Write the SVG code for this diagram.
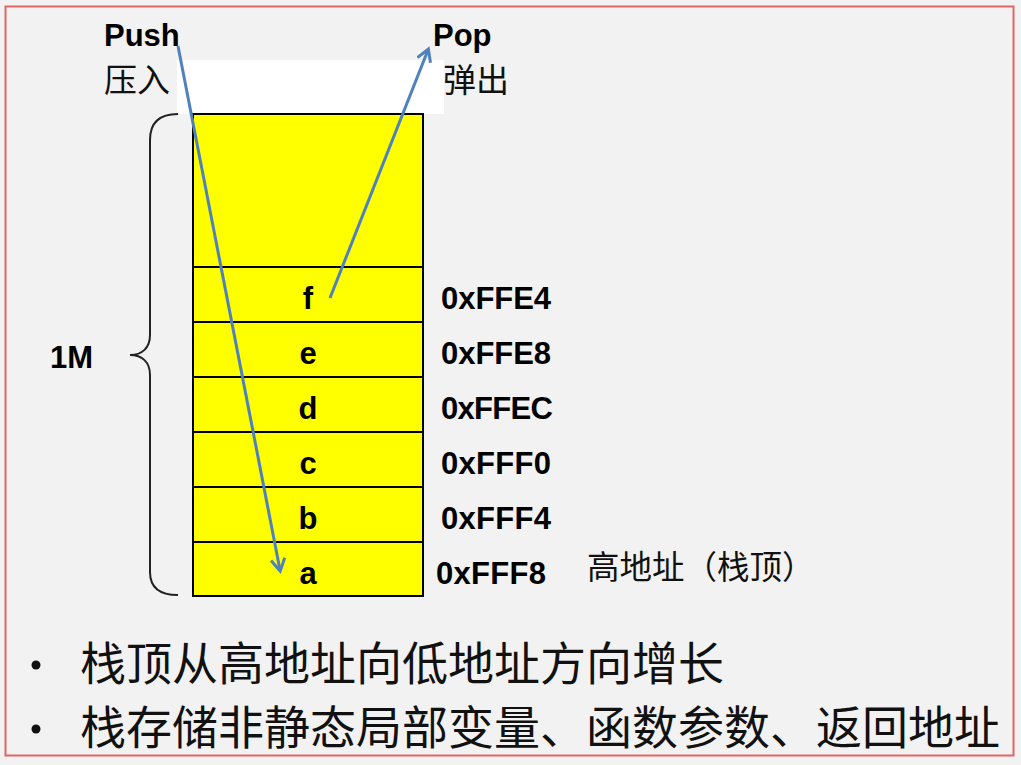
<svg xmlns="http://www.w3.org/2000/svg" width="1021" height="765" viewBox="0 0 1021 765">
<defs>
<style>
.lat{font-family:"Liberation Sans",Arial,sans-serif;font-weight:bold;fill:#000}
.cjk{font-family:"Noto Sans CJK SC","Noto Sans CJK JP",sans-serif;fill:#111}
.cell{fill:#ffff00;stroke:#000;stroke-width:2}
.arr{stroke:#4f81bd;stroke-width:3;fill:none}
</style>
<marker id="ah2" markerWidth="16" markerHeight="16" refX="12" refY="8" orient="auto" markerUnits="userSpaceOnUse" viewBox="0 0 16 16">
<path d="M1,1 L13,8 L1,15" fill="none" stroke="#4f81bd" stroke-width="3"/>
</marker>
</defs>
<rect x="0" y="0" width="1021" height="765" fill="#f2f2f2"/>
<rect x="5.5" y="6.5" width="1008" height="749" fill="none" stroke="#e06666" stroke-width="2"/>
<rect x="177" y="60" width="267" height="54" fill="#ffffff"/>
<g id="stack">
<rect class="cell" x="193" y="114" width="230" height="153"/>
<g id="cell-f"><rect class="cell" x="193" y="267" width="230" height="55"/><text class="lat" x="308" y="309" font-size="31" text-anchor="middle">f</text></g>
<g id="cell-e"><rect class="cell" x="193" y="322" width="230" height="55"/><text class="lat" x="308" y="364" font-size="31" text-anchor="middle">e</text></g>
<g id="cell-d"><rect class="cell" x="193" y="377" width="230" height="55"/><text class="lat" x="308" y="419" font-size="31" text-anchor="middle">d</text></g>
<g id="cell-c"><rect class="cell" x="193" y="432" width="230" height="55"/><text class="lat" x="308" y="474" font-size="31" text-anchor="middle">c</text></g>
<g id="cell-b"><rect class="cell" x="193" y="487" width="230" height="55"/><text class="lat" x="308" y="529" font-size="31" text-anchor="middle">b</text></g>
<g id="cell-a"><rect class="cell" x="193" y="542" width="230" height="54"/><text class="lat" x="308" y="584" font-size="31" text-anchor="middle">a</text></g>
</g>
<g id="addresses">
<text class="lat" x="441" y="309" font-size="31" textLength="110">0xFFE4</text>
<text class="lat" x="441" y="364" font-size="31" textLength="110">0xFFE8</text>
<text class="lat" x="441" y="419" font-size="31" textLength="112">0xFFEC</text>
<text class="lat" x="441" y="474" font-size="31" textLength="110">0xFFF0</text>
<text class="lat" x="441" y="529" font-size="31" textLength="110">0xFFF4</text>
<text class="lat" x="436" y="584" font-size="31" textLength="110">0xFFF8</text>
<text class="cjk" x="587" y="579" font-size="32.5">高地址（栈顶）</text>
</g>
<g id="brace">
<path d="M178,114 C160,114 150,122 150,140 L150,335 C150,348 142,355 130,355 C142,355 150,362 150,375 L150,572 C150,588 160,595 178,595" fill="none" stroke="#222" stroke-width="2"/>
<text class="lat" x="50" y="368" font-size="31">1M</text>
</g>
<g id="labels">
<text class="lat" x="104" y="46" font-size="31">Push</text>
<text class="cjk" x="104" y="92" font-size="33">压入</text>
<text class="lat" x="433" y="46" font-size="31">Pop</text>
<text class="cjk" x="443" y="92" font-size="33">弹出</text>
</g>
<g id="connectors">
<line class="arr" x1="178" y1="46" x2="280" y2="570" marker-end="url(#ah2)"/>
<line class="arr" x1="330" y1="298" x2="428" y2="50" marker-end="url(#ah2)"/>
</g>
<g id="bullets">
<circle cx="36" cy="665" r="4.5" fill="#111"/>
<text class="cjk" x="80" y="680" font-size="46">栈顶从高地址向低地址方向增长</text>
<circle cx="36" cy="729" r="4.5" fill="#111"/>
<text class="cjk" x="80" y="744" font-size="46">栈存储非静态局部变量、函数参数、返回地址</text>
</g>
</svg>
